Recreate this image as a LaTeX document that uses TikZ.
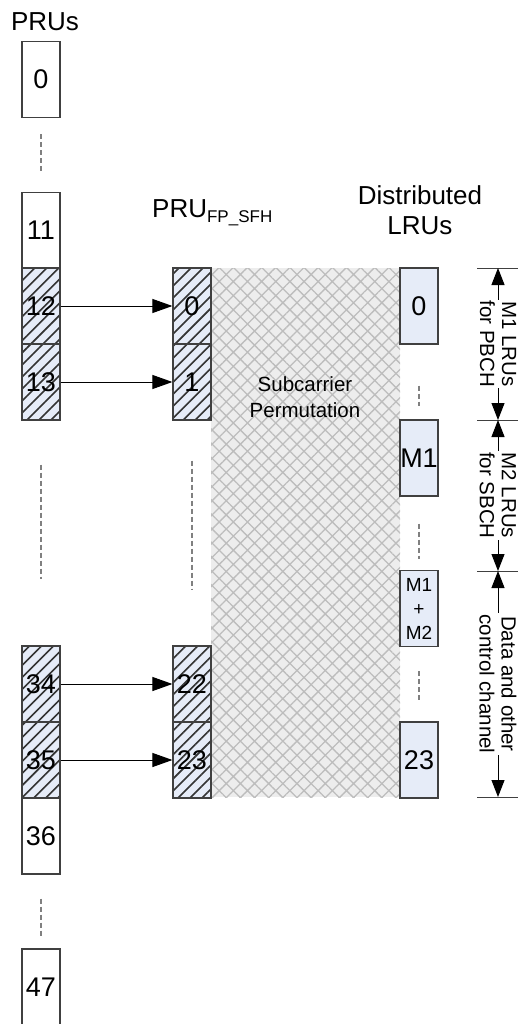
\documentclass[tikz,border=0pt]{standalone}
\usepackage{fontspec}
\setmainfont{Liberation Sans}
\usetikzlibrary{arrows.meta,patterns.meta}
\definecolor{boxblue}{HTML}{E6ECF8}
\definecolor{edge}{HTML}{404040}
\definecolor{dashgray}{HTML}{808080}
\definecolor{permbg}{HTML}{EDEDED}
\definecolor{permline}{HTML}{BDBDBD}
\begin{document}
\begin{tikzpicture}[x=1pt,y=-1pt,
  rb/.style={draw=edge, line width=1.2pt, minimum width=38pt, minimum height=76pt, inner sep=0pt, font=\fontsize{27}{27}\selectfont},
  prubox/.style={rb, fill=white},
  hatchbox/.style={rb, preaction={fill=boxblue}, preaction={pattern={Lines[angle=45,distance=8.5pt,line width=1.6pt]}, pattern color=black!80}},
  lrubox/.style={rb, fill=boxblue},
  gap/.style={draw=dashgray, line width=1.3pt, dash pattern=on 5pt off 3pt},
  conn/.style={draw=black, line width=1pt, -{Triangle[length=20pt,width=14pt]}},
  dim/.style={draw=black, line width=1pt, {Triangle[length=17pt,width=13pt]}-{Triangle[length=17pt,width=13pt]}},
  tick/.style={draw=edge, line width=1pt},
  dimlabel/.style={rotate=-90, fill=white, align=center, inner sep=1pt, font=\fontsize{20.5}{22}\selectfont},
  head/.style={font=\fontsize{26}{30}\selectfont, align=center, inner sep=0pt}
]
\useasboundingbox (0,0) rectangle (520,1024);

% permutation area
\fill[permbg] (211,268) rectangle (400,797);
\fill[pattern={Hatch[angle=45,distance=10pt,line width=1.3pt]}, pattern color=permline] (211,268) rectangle (400,797);
\node[font=\fontsize{20.5}{26}\selectfont, align=center] (perm) at (305,397) {Subcarrier\\Permutation};

% headers
\node[head] (hprus) at (45,22) {PRUs};
\node[head, anchor=base west] (hfp) at (152,218) {PRU{\fontsize{17}{17}\selectfont\raisebox{-5pt}{FP\_SFH}}};
\node[head] (hlru) at (420,210) {Distributed\\LRUs};

% PRU column
\node[prubox] (p0) at (41,79.5) {0};
\node[prubox] (p11) at (41,230.5) {11};
\node[hatchbox] (p12) at (41,306) {12};
\node[hatchbox] (p13) at (41,382) {13};
\node[hatchbox] (p34) at (41,684) {34};
\node[hatchbox] (p35) at (41,760) {35};
\node[prubox] (p36) at (41,836) {36};
\node[prubox] (p47) at (41,987) {47};

% FP column
\node[hatchbox] (f0) at (192,306) {0};
\node[hatchbox] (f1) at (192,382) {1};
\node[hatchbox] (f22) at (192,684) {22};
\node[hatchbox] (f23) at (192,760) {23};

% LRU column
\node[lrubox] (l0) at (419,306) {0};
\node[lrubox] (lm1) at (419,458) {M1};
\node[lrubox, font=\fontsize{19}{24}\selectfont, align=center] (lmm) at (419,608.5) {M1\\+\\M2};
\node[lrubox] (l23) at (419,760) {23};

% gaps
\draw[gap, shorten <=16pt, shorten >=18pt] (p0) -- (p11);
\draw[gap, shorten <=44pt, shorten >=66pt] (p13) -- (p34);
\draw[gap, shorten <=24pt, shorten >=10pt] (p36) -- (p47);
\draw[gap, shorten <=40pt, shorten >=56pt] (f1) -- (f22);
\draw[gap, shorten <=41pt, shorten >=13pt] (l0) -- (lm1);
\draw[gap, shorten <=27pt, shorten >=11pt] (lm1) -- (lmm);
\draw[gap, shorten <=24pt, shorten >=19pt] (lmm) -- (l23);

% connectors
\draw[conn] (p12) -- (f0);
\draw[conn] (p13) -- (f1);
\draw[conn] (p34) -- (f22);
\draw[conn] (p35) -- (f23);

% dimensions
\coordinate (d1) at (498,268);
\coordinate (d2) at (498,420);
\coordinate (d3) at (498,571);
\coordinate (d4) at (498,797);
\foreach \d in {d1,d2,d3,d4}{
  \draw[tick] ([xshift=-21pt]\d) -- ([xshift=20pt]\d);
}
\draw[dim] (d1) -- (d2) node[midway, dimlabel] {M1 LRUs\\for PBCH};
\draw[dim] (d2) -- (d3) node[midway, dimlabel] {M2 LRUs\\for SBCH};
\draw[dim] (d3) -- (d4) node[midway, dimlabel] {Data and other\\control channel};
\end{tikzpicture}
\end{document}
